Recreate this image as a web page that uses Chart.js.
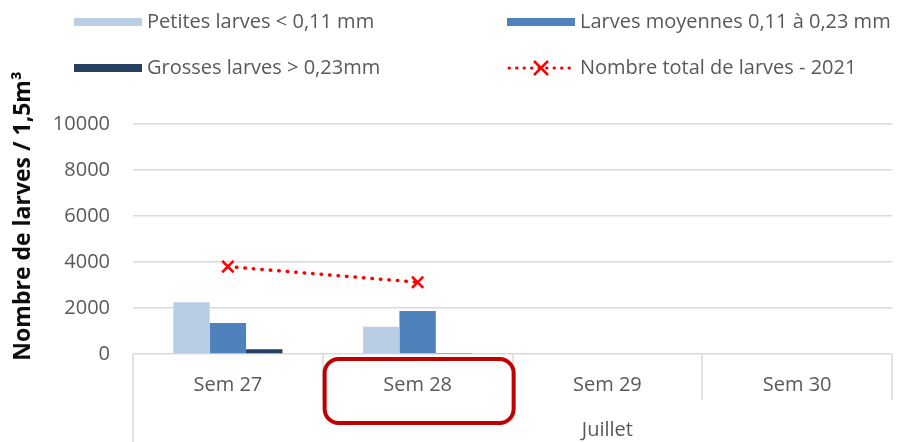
<!DOCTYPE html>
<html lang="fr">
<head>
<meta charset="utf-8">
<title>Larves 2021</title>
<script src="https://cdn.jsdelivr.net/npm/chart.js@4.4.1/dist/chart.umd.min.js"></script>
<style>
  html, body { margin: 0; padding: 0; background: #fff; }
  #boite { width: 918px; height: 442px; }
</style>
</head>
<body>
<div id="boite"><canvas id="larves" width="918" height="442"></canvas></div>
<script>
// Données
const semaines = ["Sem 27", "Sem 28", "Sem 29", "Sem 30"];
const mois = "Juillet";
const petitesLarves = [2250, 1190, null, null];
const larvesMoyennes = [1350, 1870, null, null];
const grossesLarves = [210, 40, null, null];
const totalLarves = [3800, 3120, null, null];
const graduations = [0, 2000, 4000, 6000, 8000, 10000];
const titreAxeY = "Nombre de larves / 1,5m³";
const semaineEncadree = 1;

const gris = "#595959";
const grille = "#d9d9d9";
const police = "'Open Sans', Lato, sans-serif";

Chart.defaults.font.family = police;
Chart.defaults.color = gris;

// Légende sur deux colonnes, comme dans Excel
const legendePerso = {
  id: "legendePerso",
  afterDraw(chart) {
    const ctx = chart.ctx;
    const places = [[74, 22], [507, 22], [74, 68], [507, 68]];
    ctx.save();
    ctx.font = "20px " + police;
    ctx.textBaseline = "middle";
    ctx.textAlign = "left";
    chart.data.datasets.forEach((ds, i) => {
      const [px, py] = places[i];
      if (ds.type === "line") {
        ctx.strokeStyle = ds.borderColor;
        ctx.lineWidth = 3;
        ctx.lineCap = "round";
        ctx.setLineDash([0.5, 7]);
        ctx.beginPath();
        ctx.moveTo(px + 2, py);
        ctx.lineTo(px + 66, py);
        ctx.stroke();
        ctx.setLineDash([]);
        ctx.lineCap = "butt";
        ctx.lineWidth = 2.5;
        const c = px + 34, r = 7;
        ctx.beginPath();
        ctx.moveTo(c - r, py - r);
        ctx.lineTo(c + r, py + r);
        ctx.moveTo(c + r, py - r);
        ctx.lineTo(c - r, py + r);
        ctx.stroke();
      } else {
        ctx.fillStyle = ds.backgroundColor;
        ctx.fillRect(px, py - 4, 68, 8);
      }
      ctx.fillStyle = gris;
      ctx.fillText(ds.label, px + 73, py);
    });
    ctx.restore();
  }
};

// Axe X à deux niveaux, cadre rouge et titre de l'axe Y
const decorAxes = {
  id: "decorAxes",
  afterDraw(chart) {
    const { ctx, chartArea, scales } = chart;
    const x = scales.x;
    const bas = chartArea.bottom;
    const largeur = x.width / semaines.length;
    ctx.save();

    ctx.strokeStyle = grille;
    ctx.lineWidth = 1.5;
    ctx.beginPath();
    for (let i = 0; i <= semaines.length; i++) {
      const px = Math.round(x.left + i * largeur);
      ctx.moveTo(px, bas);
      ctx.lineTo(px, i === 0 ? chart.height : bas + 46);
    }
    ctx.stroke();

    ctx.fillStyle = gris;
    ctx.font = "20px " + police;
    ctx.textAlign = "center";
    ctx.textBaseline = "middle";
    ctx.fillText(mois, x.getPixelForValue(2), bas + 76);

    const cx = x.getPixelForValue(semaineEncadree);
    ctx.strokeStyle = "#c00000";
    ctx.lineWidth = 4;
    ctx.beginPath();
    ctx.roundRect(cx - 93, bas + 5, 189, 64, 14);
    ctx.stroke();

    ctx.translate(23, 216);
    ctx.rotate(-Math.PI / 2);
    ctx.fillStyle = "#0d0d0d";
    ctx.font = "bold 23px " + police;
    ctx.fillText(titreAxeY, 0, 0);
    ctx.restore();
  }
};

const ctx = document.getElementById("larves");

new Chart(ctx, {
  type: "bar",
  data: {
    labels: semaines,
    datasets: [
      {
        label: "Petites larves < 0,11 mm",
        data: petitesLarves,
        backgroundColor: "#b9cde5",
        order: 1,
      },
      {
        label: "Larves moyennes 0,11 à 0,23 mm",
        data: larvesMoyennes,
        backgroundColor: "#4f81bd",
        order: 1,
      },
      {
        label: "Grosses larves > 0,23mm",
        data: grossesLarves,
        backgroundColor: "#254061",
        order: 1,
      },
      {
        type: "line",
        label: "Nombre total de larves - 2021",
        data: totalLarves,
        borderColor: "#ff0000",
        borderWidth: 3.5,
        borderDash: [0.5, 8],
        borderCapStyle: "round",
        pointStyle: "crossRot",
        pointRadius: 8,
        pointBorderWidth: 2.5,
        pointBorderColor: "#ff0000",
        pointBackgroundColor: "#ff0000",
        order: 0,
      },
    ],
  },
  options: {
    responsive: false,
    animation: false,
    devicePixelRatio: 1,
    layout: { padding: { top: 124, right: 26, bottom: 0, left: 0 } },
    datasets: {
      bar: { barPercentage: 1, categoryPercentage: 0.575 },
    },
    plugins: {
      legend: { display: false },
      tooltip: { enabled: false },
    },
    scales: {
      x: {
        grid: { display: false, drawTicks: false },
        border: { display: false },
        ticks: { color: gris, font: { size: 20 }, padding: 19 },
        afterFit(s) { s.height = 88; },
      },
      y: {
        min: graduations[0],
        max: graduations[graduations.length - 1],
        ticks: {
          stepSize: graduations[1] - graduations[0],
          color: gris,
          font: { size: 20 },
          padding: 23,
          callback: (v) => String(v),
        },
        grid: { color: grille, lineWidth: 1.5, drawTicks: false },
        border: { display: false },
        afterFit(s) { s.width = 133; },
      },
    },
  },
  plugins: [legendePerso, decorAxes],
});
</script>
</body>
</html>
